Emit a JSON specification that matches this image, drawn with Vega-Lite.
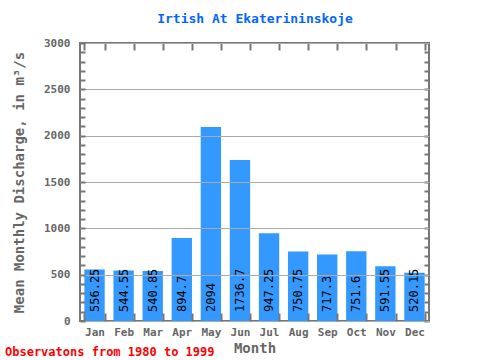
{
  "$schema": "https://vega.github.io/schema/vega-lite/v6.json",
  "width": 349,
  "height": 278,
  "autosize": "none",
  "padding": {"left": 80, "top": 43, "right": 51, "bottom": 39},
  "config": {"view": {"stroke": "#777777", "strokeWidth": 2}, "font": "DejaVu Sans Mono"},
  "title": {"text": "Observatons from 1980 to 1999", "orient": "bottom", "anchor": "start", "frame": "group", "color": "#ff0000", "fontSize": 12, "fontWeight": "bold", "font": "DejaVu Sans Mono", "dx": -75, "offset": -8},
  "data": {"values": [
    {"month": "Jan", "value": 556.25},
    {"month": "Feb", "value": 544.55},
    {"month": "Mar", "value": 540.85},
    {"month": "Apr", "value": 894.7},
    {"month": "May", "value": 2094},
    {"month": "Jun", "value": 1736.7},
    {"month": "Jul", "value": 947.25},
    {"month": "Aug", "value": 750.75},
    {"month": "Sep", "value": 717.3},
    {"month": "Oct", "value": 751.6},
    {"month": "Nov", "value": 591.55},
    {"month": "Dec", "value": 520.15}
  ]},
  "layer": [
    {
      "mark": {"type": "bar", "color": "#3399ff"},
      "encoding": {
        "x": {"field": "month", "type": "ordinal", "sort": null,
          "scale": {"paddingInner": 0.3, "paddingOuter": 0.15},
          "axis": {"orient": "bottom", "tickBand": "extent", "tickSize": -8, "tickWidth": 2, "tickColor": "#777777", "domain": false, "labelAngle": 0, "labelColor": "#666666", "labelFontSize": 11, "labelFontWeight": "bold", "labelFont": "DejaVu Sans Mono", "labelPadding": 13, "title": "Month", "titleColor": "#666666", "titleFontSize": 14, "titleFontWeight": "bold", "titleFont": "DejaVu Sans Mono", "titlePadding": 4, "zindex": 1}},
        "y": {"field": "value", "type": "quantitative",
          "scale": {"domain": [0, 3000], "nice": false},
          "axis": {"orient": "left", "values": [0,100,200,300,400,500,600,700,800,900,1000,1100,1200,1300,1400,1500,1600,1700,1800,1900,2000,2100,2200,2300,2400,2500,2600,2700,2800,2900,3000],
            "format": "d",
            "labelExpr": "datum.value % 500 === 0 ? datum.label : ''",
            "tickSize": -5, "tickWidth": 2, "tickColor": "#777777", "domain": false,
            "grid": true, "gridColor": {"condition": {"test": "datum.value % 500 === 0", "value": "#aaaaaa"}, "value": "transparent"},
            "labelColor": "#666666", "labelFontSize": 11, "labelFontWeight": "bold", "labelFont": "DejaVu Sans Mono", "labelPadding": 15,
            "title": "Mean Monthly Discharge, in m³/s", "titleColor": "#666666", "titleFontSize": 14, "titleFontWeight": "bold", "titleFont": "DejaVu Sans Mono", "titlePadding": 17, "zindex": 1}}
      }
    },
    {
      "mark": {"type": "text", "angle": 270, "align": "left", "baseline": "middle", "dx": 9, "fontSize": 12, "font": "DejaVu Sans Mono", "color": "#000000"},
      "encoding": {
        "x": {"field": "month", "type": "ordinal", "sort": null,
          "axis": {"orient": "top", "tickBand": "extent", "tickSize": -7, "tickWidth": 2, "tickColor": "#777777", "domain": false, "labels": false,
            "title": "Irtish At Ekaterininskoje", "titleColor": "#0066ff", "titleFontSize": 13, "titleFontWeight": "bold", "titleFont": "DejaVu Sans Mono", "titlePadding": 17}},
        "y": {"datum": 0, "type": "quantitative",
          "axis": {"orient": "right", "values": [0,100,200,300,400,500,600,700,800,900,1000,1100,1200,1300,1400,1500,1600,1700,1800,1900,2000,2100,2200,2300,2400,2500,2600,2700,2800,2900,3000],
            "labels": false, "tickSize": -5, "tickWidth": 2, "tickColor": "#777777", "domain": false, "grid": false, "title": null}},
        "text": {"field": "value", "type": "quantitative", "format": "~g"}
      }
    }
  ],
  "resolve": {"axis": {"x": "independent", "y": "independent"}}
}
